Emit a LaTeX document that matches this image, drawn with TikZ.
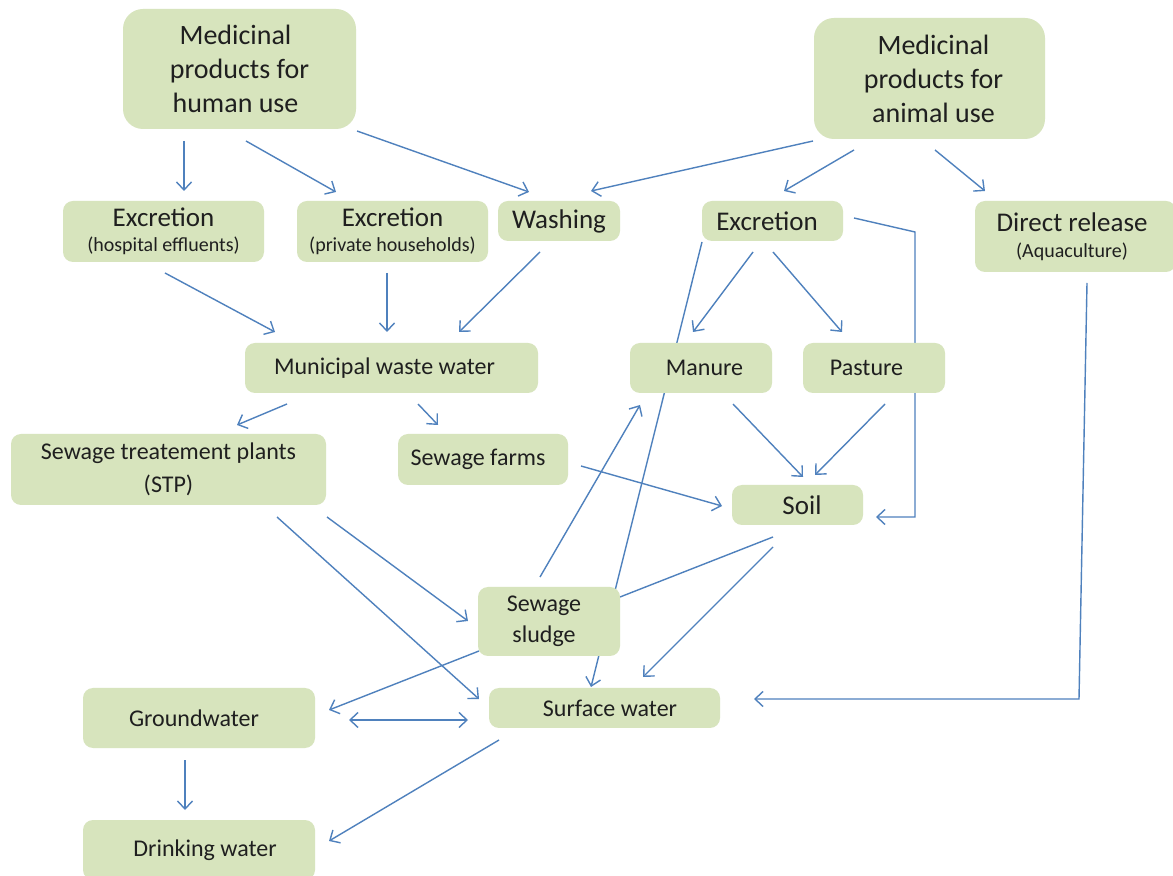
\documentclass[tikz,border=0pt]{standalone}
\usepackage{fontspec}
\setmainfont{Carlito}
\usetikzlibrary{arrows.meta,backgrounds}
\definecolor{boxfill}{HTML}{D7E4BD}
\definecolor{arrcol}{HTML}{4F81BD}
\definecolor{txt}{HTML}{1F1F1F}
\newcommand\lgtext{\fontsize{13.5}{16}\selectfont}
\newcommand\smtext{\fontsize{10}{12}\selectfont}
\tikzset{
  box/.style={draw=none, fill=boxfill, rounded corners=5pt, inner sep=0pt, outer sep=0pt,
    text=txt, align=center, font=\fontsize{12}{15}\selectfont},
  bigbox/.style={box, rounded corners=10pt, font=\fontsize{14}{17}\selectfont},
  barb/.tip={Straight Barb[length=4pt,width=7.5pt]},
  conn/.style={draw=arrcol, line width=0.7pt, -barb},
  both/.style={draw=arrcol, line width=0.7pt, barb-barb},
  plainline/.style={draw=arrcol, line width=0.7pt},
}
\begin{document}
\begin{tikzpicture}[x=0.5pt,y=-0.5pt]
\useasboundingbox (0,0) rectangle (1173,876);

% nodes
\node[bigbox, minimum width=116.5pt, minimum height=60pt] (hum) at (239.5,69) {Medicinal\hspace*{4pt}\\products for\hspace*{4pt}\\human use\hspace*{4pt}};
\node[bigbox, minimum width=115.5pt, minimum height=60.5pt] (ani) at (929.5,78.5) {\hspace*{4pt}Medicinal\\\hspace*{4pt}products for\\\hspace*{4pt}animal use};
\node[box, font=\smtext, minimum width=100.5pt, minimum height=30.5pt] (exh) at (163.5,231.5) {{\lgtext Excretion}\\[0.5pt](hospital effluents)};
\node[box, font=\smtext, minimum width=95.5pt, minimum height=30.5pt] (exp) at (392.5,231.5) {{\lgtext Excretion}\\[0.5pt](private households)};
\node[box, font=\lgtext, minimum width=61pt, minimum height=20pt] (wash) at (559,221) {Washing};
\node[box, font=\lgtext, minimum width=70.5pt, minimum height=20pt] (exa) at (772.5,221) {Excretion\hspace*{5.5pt}};
\node[box, font=\smtext, minimum width=100.5pt, minimum height=35.5pt] (dir) at (1075.5,236.5) {{\lgtext Direct release}\hspace*{3.5pt}\\[1pt](Aquaculture)\hspace*{3.5pt}};
\node[box, minimum width=146.5pt, minimum height=25pt] (mun) at (391.5,368) {Municipal waste water\hspace*{7pt}};
\node[box, minimum width=71pt, minimum height=25pt] (man) at (701,368) {\hspace*{3.5pt}Manure};
\node[box, minimum width=71pt, minimum height=25pt] (pas) at (874,368) {Pasture\hspace*{7.5pt}};
\node[box, font=\fontsize{12}{16.5}\selectfont, minimum width=157.5pt, minimum height=35.5pt] (stp) at (168.5,469.5) {Sewage treatement plants\\(STP)};
\node[box, minimum width=85pt, minimum height=25.5pt] (farm) at (483,459.5) {Sewage farms\hspace*{5pt}};
\node[box, font=\lgtext, minimum width=65.5pt, minimum height=20pt] (soil) at (797.5,505) {\hspace*{4.5pt}Soil};
\node[box, font=\fontsize{12}{15.5}\selectfont, minimum width=71pt, minimum height=34.5pt] (slu) at (549,621.5) {Sewage\hspace*{5pt}\\sludge\hspace*{5pt}};
\node[box, minimum width=115.5pt, minimum height=20pt] (surf) at (604.5,708) {\hspace*{5.5pt}Surface water};
\node[box, minimum width=116pt, minimum height=30pt] (gw) at (199,718) {Groundwater\hspace*{5pt}};
\node[box, minimum width=116pt, minimum height=30pt] (dw) at (199,850) {\hspace*{6pt}Drinking water};

\coordinate (ebend) at (915,232);
\coordinate (dbend) at (1079,699);
\coordinate (soilin) at ([shift={(144,32)}]soil.north west);
\coordinate (surfin) at ([shift={(265,11)}]surf.north west);

\begin{scope}[on background layer]
\fill[white] (0,0) rectangle (1173,876);
\draw[conn] ([shift={(61,132)}]hum.north west) -- ([shift={(121,-10)}]exh.north west);
\draw[conn] ([shift={(123,132)}]hum.north west) -- ([shift={(39,-9)}]exp.north west);
\draw[conn] ([shift={(234,122)}]hum.north west) -- ([shift={(31,-9)}]wash.north west);
\draw[conn] ([shift={(-1,123)}]ani.north west) -- ([shift={(93,-10)}]wash.north west);
\draw[conn] ([shift={(40,132)}]ani.north west) -- ([shift={(82,-10)}]exa.north west);
\draw[conn] ([shift={(121,132)}]ani.north west) -- ([shift={(10,-10)}]dir.north west);
\draw[conn] ([shift={(102,72)}]exh.north west) -- ([shift={(30,-11)}]mun.north west);
\draw[conn] ([shift={(90,72)}]exp.north west) -- ([shift={(142,-11)}]mun.north west);
\draw[conn] ([shift={(42,51)}]wash.north west) -- ([shift={(214,-11)}]mun.north west);
\draw[conn] ([shift={(51,51)}]exa.north west) -- ([shift={(63,-11)}]man.north west);
\draw[conn] ([shift={(71,51)}]exa.north west) -- ([shift={(39,-11)}]pas.north west);
\draw[conn] ([shift={(0,41)}]exa.north west) -- ([shift={(102,-1)}]surf.north west);
\draw[conn] ([shift={(152,17)}]exa.north west) -- (ebend) -- (ebend |- soilin) -- (soilin);
\draw[conn] ([shift={(112,82)}]dir.north west) -- (dbend) -- (surfin);
\draw[conn] ([shift={(42,61)}]mun.north west) -- ([shift={(226,-9)}]stp.north west);
\draw[conn] ([shift={(173,61)}]mun.north west) -- ([shift={(40,-9)}]farm.north west);
\draw[conn] ([shift={(103,61)}]man.north west) -- ([shift={(71,-8)}]soil.north west);
\draw[conn] ([shift={(82,61)}]pas.north west) -- ([shift={(83,-10)}]soil.north west);
\draw[conn] ([shift={(183,32)}]farm.north west) -- ([shift={(-10,21)}]soil.north west);
\draw[conn] ([shift={(316,83)}]stp.north west) -- ([shift={(-10,34)}]slu.north west);
\draw[conn] ([shift={(266,83)}]stp.north west) -- ([shift={(-10,11)}]surf.north west);
\draw[conn] ([shift={(62,-10)}]slu.north west) -- ([shift={(10,62)}]man.north west);
\draw[plainline] ([shift={(41,52)}]soil.north west) -- ([shift={(142,10)}]slu.north west);
\draw[conn] ([shift={(41,62)}]soil.north west) -- ([shift={(154,-11)}]surf.north west);
\draw[conn] ([shift={(1,64)}]slu.north west) -- ([shift={(246,22)}]gw.north west);
\draw[both] ([shift={(266,32)}]gw.north west) -- ([shift={(-21,32)}]surf.north west);
\draw[conn] ([shift={(102,72)}]gw.north west) -- ([shift={(102,-10)}]dw.north west);
\draw[conn] ([shift={(10,52)}]surf.north west) -- ([shift={(246,21)}]dw.north west);
\end{scope}
\end{tikzpicture}
\end{document}
